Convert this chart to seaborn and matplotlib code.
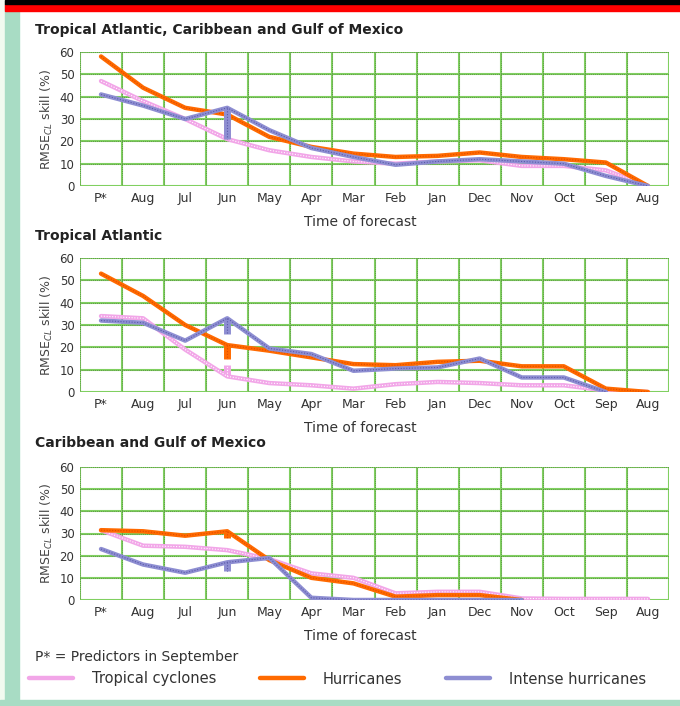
import numpy as np
import pandas as pd
import matplotlib
matplotlib.use('Agg')
import matplotlib.pyplot as plt
from matplotlib.lines import Line2D
from matplotlib.patches import Rectangle
import seaborn as sns

# Datos
meses = ['P*', 'Aug', 'Jul', 'Jun', 'May', 'Apr', 'Mar', 'Feb', 'Jan', 'Dec', 'Nov', 'Oct', 'Sep', 'Aug']
titulos = ['Tropical Atlantic, Caribbean and Gulf of Mexico',
           'Tropical Atlantic',
           'Caribbean and Gulf of Mexico']
series = ['Tropical cyclones', 'Hurricanes', 'Intense hurricanes']

nan = np.nan
tc1 = [47, 38, 30, 21, 16, 13, 11, 10, 11, 11.5, 9, 9, 7, 0]
hu1 = [58, 44, 35, 32, 22, 17.5, 14.5, 13, 13.5, 15, 13, 12, 10.5, 0]
ih1 = [41, 36, 30, 35, 25, 17, 13, 9.5, 11, 12, 11, 10, 4.5, 0]
jun1 = [31, 27, 21]   # segundo valor de junio

tc2 = [34, 33, 19, 7, 4, 3, 1.5, 3.5, 4.5, 4, 3, 3, 0.7, 0]
hu2 = [53, 43, 30, 21, 18.5, 15.5, 12.5, 12, 13.5, 14, 11.5, 11.5, 1.5, 0]
ih2 = [32, 31, 23, 33, 19.5, 17, 9.5, 10.5, 11, 15, 6.5, 6.5, 0, nan]
jun2 = [12, 15, 26]

tc3 = [31.5, 24.5, 24, 22.5, 18.5, 12, 10, 3, 3.7, 3.7, 0.7, 0.5, 0.5, 0.5]
hu3 = [31.5, 31, 29, 31, 18, 10, 7.5, 1.5, 2.2, 2.2, 0, nan, nan, nan]
ih3 = [23, 16, 12.3, 17, 19, 1, 0, 0, 0, 0, 0, nan, nan, nan]
jun3 = [22.5, 28, 13]

paneles = [(tc1, hu1, ih1, jun1), (tc2, hu2, ih2, jun2), (tc3, hu3, ih3, jun3)]

colores = {'Tropical cyclones': '#f2a6e8', 'Hurricanes': '#ff6a00', 'Intense hurricanes': '#8e8ed2'}
puntos = {'Tropical cyclones': '#ffffff', 'Hurricanes': '#e04a00', 'Intense hurricanes': '#5a5aa8'}

sns.set_theme(style='white')
plt.rcParams['font.family'] = ['DejaVu Sans']

fig = plt.figure(figsize=(6.8, 7.06), dpi=100)
W, H = 680, 706

# Marco de fondo
fig.patches.append(Rectangle((0, 0), 5 / W, 1, transform=fig.transFigure, color='#f2faf0', zorder=0))
fig.patches.append(Rectangle((5 / W, 0), 14 / W, 1, transform=fig.transFigure, color='#a8dcc4', zorder=0))
fig.patches.append(Rectangle((0, 0), 1, 6 / H, transform=fig.transFigure, color='#a8dcc4', zorder=0))
fig.patches.append(Rectangle((5 / W, 1 - 11 / H), 1, 7 / H, transform=fig.transFigure, color='#ff0000', zorder=0))
fig.patches.append(Rectangle((5 / W, 1 - 4 / H), 1, 4 / H, transform=fig.transFigure, color='#000000', zorder=0))

ejes_y = [(52, 186), (258, 392), (467, 600)]
titulo_y = [30, 236, 443]
x = np.arange(len(meses))
jun_idx = meses.index('Jun')

for k, ((tc, hu, ih, jun), (top, bot)) in enumerate(zip(paneles, ejes_y)):
    ax = fig.add_axes([80 / W, 1 - bot / H, 589 / W, (bot - top) / H])
    ax.set_facecolor('white')

    # Rejilla verde con puntos oscuros
    for xv in np.arange(-0.5, len(meses), 1.0):
        ax.axvline(xv, color='#80d060', lw=1.5, zorder=1)
        ax.axvline(xv, color='#446633', lw=0.5, ls=(0, (1, 2)), zorder=1.1)
    for yv in range(0, 61, 10):
        ax.axhline(yv, color='#80d060', lw=1.5, zorder=1)
        ax.axhline(yv, color='#446633', lw=0.5, ls=(0, (1, 2)), zorder=1.1)

    df = pd.DataFrame({'pos': np.tile(x, 3),
                       'valor': np.concatenate([tc, hu, ih]),
                       'serie': np.repeat(series, len(meses))})
    for i, s in enumerate(series):
        d = df[df['serie'] == s]
        sns.lineplot(data=d, x='pos', y='valor', color=colores[s], lw=3.2, sort=False,
                     estimator=None, ax=ax, zorder=3 + i)
        ax.plot(d['pos'], d['valor'], color=puntos[s], lw=0.8, ls=(0, (1, 1.5)), zorder=3.5 + i)
        # salto de junio
        base = d['valor'].iloc[jun_idx]
        ax.plot([jun_idx, jun_idx], [base, jun[i]], color=colores[s], lw=5,
                solid_capstyle='butt', zorder=3 + i)
        ax.plot([jun_idx, jun_idx], [base, jun[i]], color=puntos[s], lw=0.8,
                ls=(0, (1, 1.5)), zorder=3.5 + i)

    ax.set_xlim(-0.5, len(meses) - 0.5)
    ax.set_ylim(0, 60)
    ax.set_xticks(x)
    ax.set_xticklabels(meses, fontsize=9, color='#333333')
    ax.set_yticks(range(0, 61, 10))
    ax.set_yticklabels([str(v) for v in range(0, 61, 10)], fontsize=8.5, color='#333333')
    ax.tick_params(length=0, pad=4)
    ax.set_xlabel('')
    ax.set_ylabel(r'RMSE$_{CL}$ skill (%)', fontsize=9, color='#444444', labelpad=3)
    for sp in ax.spines.values():
        sp.set_visible(False)

    fig.text(35 / W, 1 - titulo_y[k] / H, titulos[k], fontsize=10, fontweight='bold',
             color='#222222', ha='left', va='center')
    fig.text(360 / W, 1 - (bot + 36) / H, 'Time of forecast', fontsize=10,
             color='#333333', ha='center', va='center')

fig.text(35 / W, 1 - 657 / H, 'P* = Predictors in September', fontsize=10,
         color='#333333', ha='left', va='center')

manijas = [Line2D([0], [0], color=colores[s], lw=3.2) for s in series]
leg = fig.legend(manijas, series, loc='center left', bbox_to_anchor=(16 / W, 1 - 679 / H),
                 ncol=3, frameon=False, fontsize=10.5, handlelength=3.0, columnspacing=3.0,
                 handletextpad=1.3)
for t in leg.get_texts():
    t.set_color('#333333')

fig.savefig('out.png', dpi=100, facecolor='white')
